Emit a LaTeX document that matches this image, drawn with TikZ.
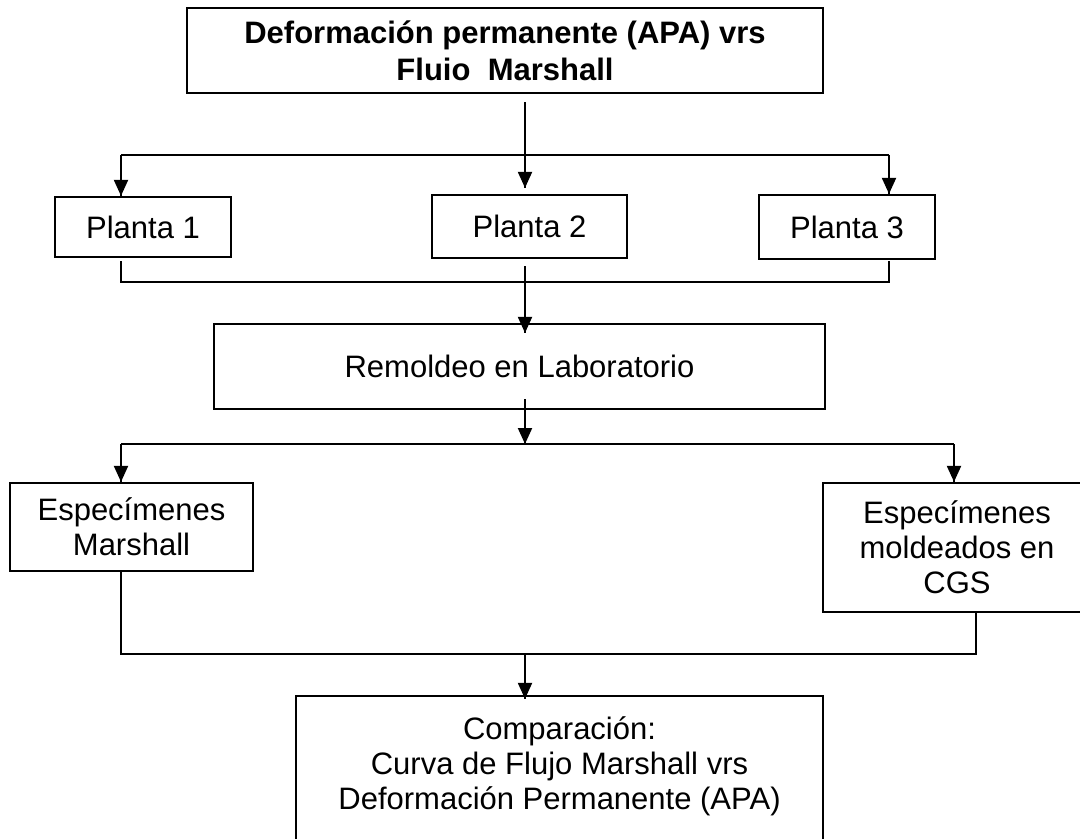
\documentclass[tikz,border=0pt]{standalone}
\usepackage{fontspec}
\setmainfont{Liberation Sans}
\usetikzlibrary{arrows.meta,decorations.markings}
\tikzset{->/.style = {decoration={markings, mark=at position 1 with {\arrow{Triangle[length=8pt,width=7pt]}}}, postaction={decorate}}}
\tikzset{caja/.style = {draw, line width=1.1pt, inner sep=0pt, align=center, font=\fontsize{15.5}{17.5}\selectfont}}

\begin{document}
\begin{tikzpicture}[x=0.5pt,y=-0.5pt,line width=1pt]
\useasboundingbox (0,0) rectangle (1080,839);
\clip (0,0) rectangle (1080,839);
\node [caja, minimum width=318pt, minimum height=42.5pt, font=\fontsize{15.5}{18.5}\selectfont\bfseries] (titulo) at (505,50.5) {Deformación permanente (APA) vrs\\Fluio~~Marshall};
\node [caja, minimum width=88pt, minimum height=30pt] (p1) at (143,227) {Planta 1};
\node [caja, minimum width=97.5pt, minimum height=31.5pt] (p2) at (529.5,226.5) {Planta 2};
\node [caja, minimum width=88pt, minimum height=32pt] (p3) at (847,227) {Planta 3};
\node [caja, minimum width=305.5pt, minimum height=42.5pt] (remoldeo) at (519.5,366.5) {Remoldeo en Laboratorio};
\node [caja, minimum width=121.5pt, minimum height=44pt] (marshall) at (131.5,527) {Especímenes\\Marshall};
\node [caja, minimum width=134pt, minimum height=64.5pt] (cgs) at (957,547.5) {Especímenes\\moldeados en\\CGS};
\node [caja, minimum width=263.5pt, minimum height=89.5pt] (comparacion) at (559.5,785.5) {Comparación:\\Curva de Flujo Marshall vrs\\Deformación Permanente (APA)\\ \strut};

\coordinate (eje) at (525,0);
\coordinate (izqA) at (121,155);
\coordinate (derA) at (889,155);
\coordinate (izqB) at (121,282);
\coordinate (derB) at (889,282);
\coordinate (izqC) at (121,444);
\coordinate (derC) at (954,444);
\coordinate (izqD) at (121,654);
\coordinate (derD) at (976,654);

\draw [->] ([yshift=-4pt]titulo.south -| eje) -- ([yshift=3pt]p2.north -| eje);
\draw (izqA) -- (derA);
\draw [->] (izqA) -- (izqA |- p1.north);
\draw [->] (derA) -- (derA |- p3.north);
\draw ([yshift=-1.5pt]p1.south -| izqB) -- (izqB) -- (derB) -- ([yshift=-0.5pt]p3.south -| derB);
\draw [->] ([yshift=-3.5pt]p2.south -| eje) -- ([yshift=-5pt]remoldeo.north -| eje);
\draw [->] ([yshift=5.5pt]remoldeo.south -| eje) -- (izqC -| eje);
\draw (izqC) -- (derC);
\draw [->] (izqC) -- (izqC |- marshall.north);
\draw [->] (derC) -- (derC |- cgs.north);
\draw (marshall.south -| izqD) -- (izqD) -- (derD) -- (cgs.south -| derD);
\draw [->] (izqD -| eje) -- ([yshift=-2pt]comparacion.north -| eje);
\end{tikzpicture}
\end{document}
